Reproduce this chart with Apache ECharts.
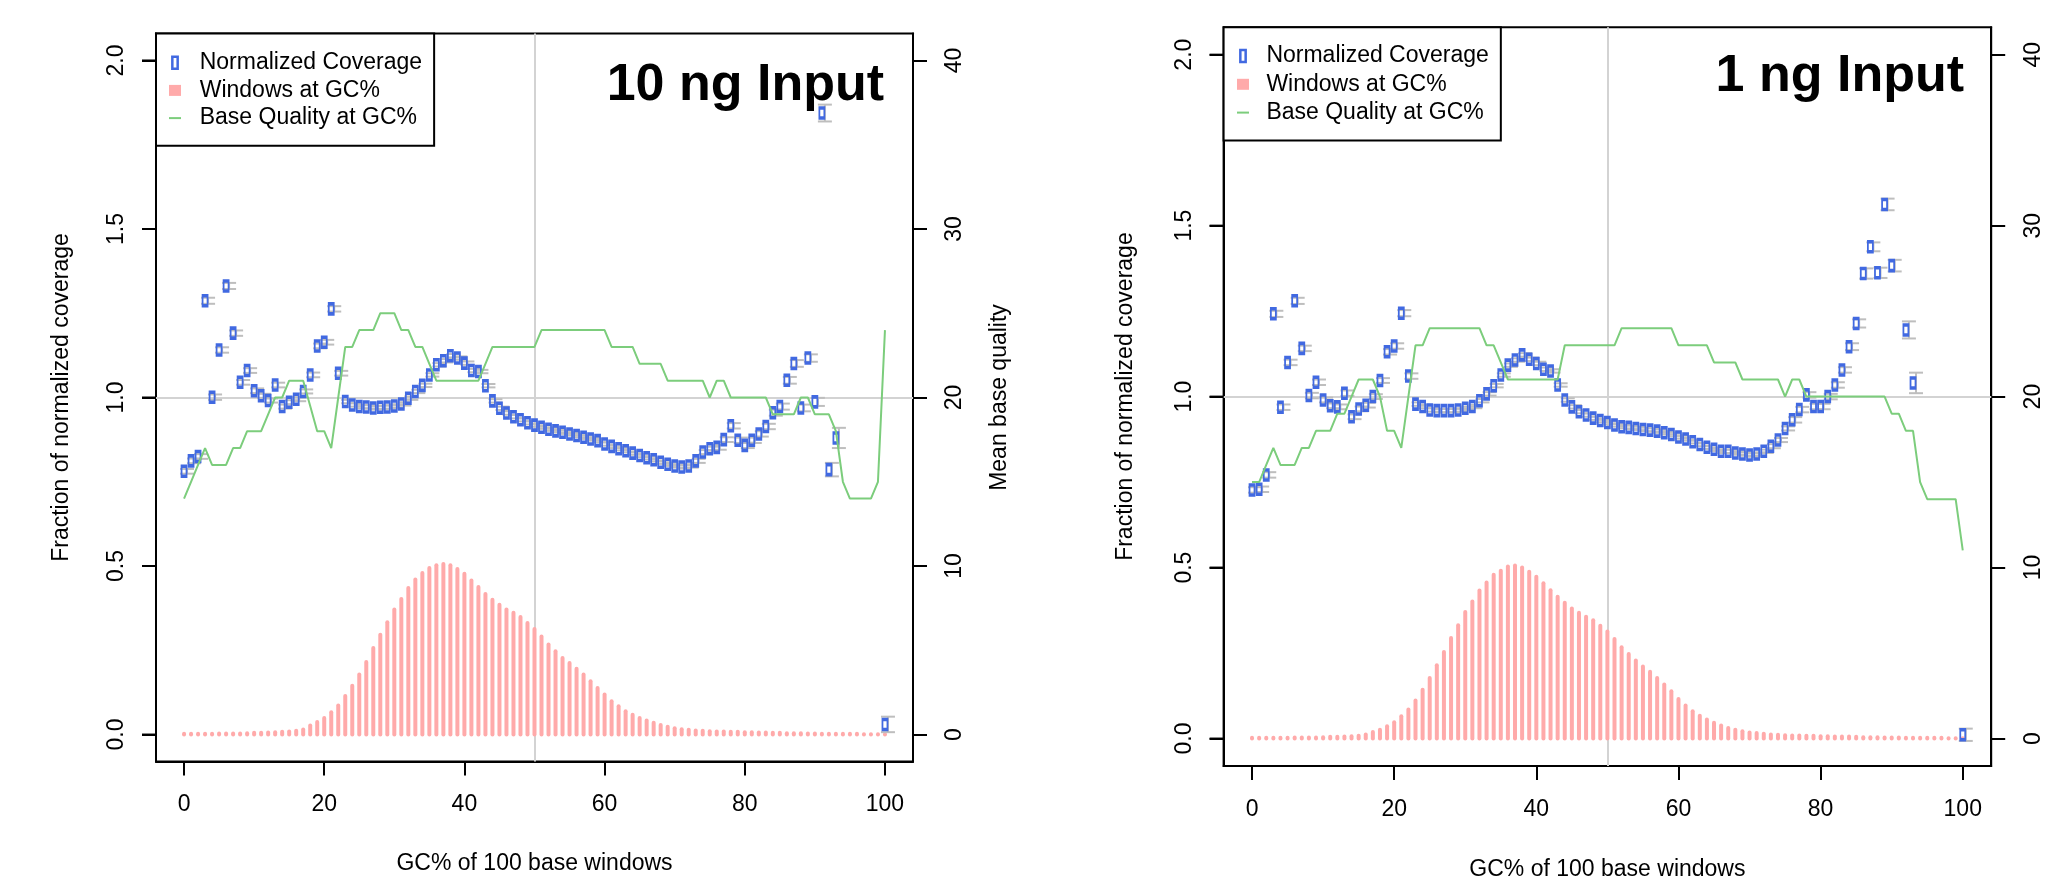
<!DOCTYPE html>
<html>
<head>
<meta charset="utf-8">
<title>GC bias – 10 ng vs 1 ng input</title>
<script src="https://cdn.jsdelivr.net/npm/echarts@6.0.0/dist/echarts.min.js"></script>
<style>
html,body{margin:0;padding:0;background:#ffffff;}
#chart{width:2069px;height:876px;}
</style>
</head>
<body>
<div id="chart"></div>
<script>
// ---------------- data ----------------
const gcPercent = [0,1,2,3,4,5,6,7,8,9,10,11,12,13,14,15,16,17,18,19,20,21,22,23,24,25,26,27,28,29,30,31,32,33,34,35,36,37,38,39,40,41,42,43,44,45,46,47,48,49,50,51,52,53,54,55,56,57,58,59,60,61,62,63,64,65,66,67,68,69,70,71,72,73,74,75,76,77,78,79,80,81,82,83,84,85,86,87,88,89,90,91,92,93,94,95,96,97,98,99,100];

const panelTitles = ['10 ng Input', '1 ng Input'];
const seriesNames = ['Normalized Coverage', 'Windows at GC%', 'Base Quality at GC%'];
const xAxisTitle = 'GC% of 100 base windows';
const yLeftTitle = 'Fraction of normalized coverage';
const yRightTitle = 'Mean base quality';

const xTickValues = [0, 20, 40, 60, 80, 100];
const xTickLabels = ['0', '20', '40', '60', '80', '100'];
const yLeftTickValues = [0, 0.5, 1, 1.5, 2];
const yLeftTickLabels = ['0.0', '0.5', '1.0', '1.5', '2.0'];
const yRightTickValues = [0, 10, 20, 30, 40];
const yRightTickLabels = ['0', '10', '20', '30', '40'];
const refLineCoverage = 1;
const refLineGc = 50;

// 10 ng input
const coverage10ng = [0.781,0.812,0.825,1.287,1.001,1.141,1.331,1.191,1.045,1.080,
  1.020,1.005,0.991,1.037,0.973,0.986,0.995,1.018,1.067,1.153,
  1.164,1.263,1.072,0.988,0.978,0.973,0.972,0.969,0.971,0.972,
  0.975,0.981,0.998,1.018,1.036,1.067,1.097,1.109,1.124,1.117,
  1.102,1.080,1.077,1.035,0.990,0.968,0.954,0.943,0.934,0.925,
  0.918,0.912,0.906,0.901,0.897,0.892,0.887,0.882,0.877,0.872,
  0.862,0.855,0.848,0.842,0.835,0.828,0.821,0.815,0.808,0.802,
  0.797,0.794,0.797,0.812,0.838,0.848,0.852,0.875,0.916,0.873,
  0.858,0.873,0.892,0.914,0.955,0.973,1.051,1.101,0.969,1.117,
  0.987,1.844,0.786,0.880,null,null,null,null,null,null,
  0.030];
const coverageErr10ng = [0.007,0.007,0.007,0.009,0.008,0.008,0.009,0.008,0.007,0.007,
  0.007,0.006,0.006,0.007,0.006,0.006,0.006,0.006,0.007,0.007,
  0.007,0.008,0.007,0.005,0.005,0.005,0.005,0.005,0.005,0.005,
  0.005,0.005,0.005,0.005,0.005,0.005,0.005,0.005,0.005,0.005,
  0.005,0.005,0.005,0.005,0.005,0.005,0.005,0.005,0.005,0.005,
  0.005,0.005,0.005,0.005,0.005,0.005,0.005,0.005,0.005,0.005,
  0.005,0.005,0.005,0.005,0.005,0.005,0.005,0.005,0.005,0.005,
  0.005,0.005,0.005,0.006,0.006,0.006,0.007,0.007,0.008,0.008,
  0.008,0.008,0.008,0.008,0.009,0.009,0.010,0.010,0.010,0.011,
  0.012,0.025,0.020,0.030,null,null,null,null,null,null,
  0.023];
const windows10ng = [0.002,0.002,0.002,0.002,0.002,0.003,0.003,0.003,0.003,0.004,
  0.005,0.005,0.006,0.007,0.008,0.009,0.011,0.015,0.027,0.037,
  0.049,0.066,0.086,0.114,0.145,0.178,0.215,0.257,0.296,0.333,
  0.371,0.402,0.435,0.460,0.479,0.494,0.502,0.506,0.502,0.491,
  0.477,0.457,0.438,0.417,0.400,0.385,0.371,0.361,0.349,0.331,
  0.313,0.291,0.267,0.247,0.227,0.212,0.195,0.178,0.158,0.138,
  0.119,0.099,0.084,0.069,0.059,0.049,0.042,0.035,0.028,0.023,
  0.019,0.016,0.014,0.012,0.011,0.010,0.009,0.009,0.008,0.008,
  0.007,0.007,0.006,0.006,0.005,0.005,0.004,0.004,0.004,0.003,
  0.003,0.002,0.002,0.002,0.002,0.002,0.002,0.001,0.001,0.001,
  0.001];
const quality10ng = [14,15,16,17,16,16,16,17,17,18,
  18,18,19,20,20,21,21,21,19.5,18,
  18,17,20,23,23,24,24,24,25,25,
  25,24,24,23,23,22,21,21,21,21,
  21,21,21,22,23,23,23,23,23,23,
  23,24,24,24,24,24,24,24,24,24,
  24,23,23,23,23,22,22,22,22,21,
  21,21,21,21,21,20,21,21,20,20,
  20,20,20,20,19,19,19,19,20,20,
  19,19,19,18,15,14,14,14,14,15,
  24];

// 1 ng input
const coverage1ng = [0.727,0.729,0.771,1.242,0.969,1.100,1.280,1.141,1.003,1.042,
  0.990,0.973,0.970,1.010,0.941,0.964,0.975,1.000,1.047,1.131,
  1.148,1.244,1.060,0.978,0.971,0.961,0.959,0.959,0.959,0.961,
  0.966,0.971,0.988,1.008,1.032,1.063,1.092,1.107,1.122,1.109,
  1.097,1.080,1.075,1.034,0.990,0.970,0.956,0.946,0.937,0.930,
  0.924,0.917,0.912,0.910,0.907,0.904,0.902,0.899,0.894,0.889,
  0.882,0.876,0.868,0.860,0.852,0.846,0.840,0.840,0.835,0.832,
  0.829,0.832,0.840,0.855,0.873,0.907,0.932,0.962,1.005,0.971,
  0.971,1.000,1.034,1.078,1.146,1.214,1.360,1.438,1.362,1.562,
  1.383,null,1.195,1.040,null,null,null,null,null,null,
  0.011];
const coverageErr1ng = [0.008,0.008,0.008,0.009,0.008,0.008,0.009,0.008,0.008,0.008,
  0.007,0.007,0.007,0.008,0.007,0.007,0.007,0.007,0.007,0.008,
  0.008,0.009,0.008,0.005,0.005,0.005,0.005,0.005,0.005,0.005,
  0.005,0.005,0.005,0.005,0.005,0.005,0.005,0.005,0.005,0.005,
  0.005,0.005,0.005,0.005,0.005,0.005,0.005,0.005,0.005,0.005,
  0.005,0.005,0.005,0.005,0.005,0.005,0.005,0.005,0.005,0.005,
  0.005,0.005,0.005,0.005,0.005,0.005,0.005,0.005,0.005,0.005,
  0.005,0.005,0.005,0.006,0.006,0.006,0.008,0.008,0.008,0.008,
  0.008,0.008,0.008,0.008,0.010,0.012,0.015,0.013,0.015,0.017,
  0.017,null,0.025,0.030,null,null,null,null,null,null,
  0.018];
const windows1ng = [0.002,0.002,0.002,0.002,0.002,0.002,0.003,0.003,0.003,0.003,
  0.004,0.005,0.005,0.006,0.007,0.008,0.012,0.019,0.026,0.036,
  0.048,0.065,0.085,0.111,0.143,0.177,0.214,0.253,0.294,0.331,
  0.370,0.401,0.433,0.456,0.479,0.491,0.503,0.506,0.500,0.488,
  0.473,0.454,0.434,0.415,0.397,0.380,0.368,0.356,0.346,0.330,
  0.313,0.291,0.267,0.247,0.228,0.211,0.195,0.177,0.158,0.138,
  0.116,0.097,0.080,0.067,0.056,0.046,0.038,0.031,0.026,0.021,
  0.018,0.016,0.014,0.012,0.011,0.010,0.009,0.009,0.008,0.008,
  0.007,0.007,0.006,0.006,0.006,0.005,0.004,0.004,0.004,0.003,
  0.003,0.003,0.002,0.002,0.002,0.002,0.002,0.002,0.001,0.001,
  0.001];
const quality1ng = [15,15,16,17,16,16,16,17,17,18,
  18,18,19,19,20,21,21,21,20,18,
  18,17,20,23,23,24,24,24,24,24,
  24,24,24,23,23,22,21,21,21,21,
  21,21,21,21,23,23,23,23,23,23,
  23,23,24,24,24,24,24,24,24,24,
  23,23,23,23,23,22,22,22,22,21,
  21,21,21,21,21,20,21,21,20,20,
  20,20,20,20,20,20,20,20,20,20,
  19,19,18,18,15,14,14,14,14,14,
  11];

// ---------------- styling ----------------
const FONT = "'Liberation Sans', Arial, Helvetica, sans-serif";
const COL = {cov:'#4169E1', win:'#FFAAAA', qual:'#7CCD7C', ref:'#D3D3D3', err:'#BEBEBE', ink:'#000000'};
const ERR_SHIFT_PX = 3;     // error bars sit slightly right of the point glyph
const ERR_CAP_HALF = 7;
const TICK_LEN = 14;
const X_MIN = -4, X_MAX = 104, Y_MIN = -0.08, Y_MAX = 2.08;

const layout = [
  {grid:{left:156, top:33.5, width:757, height:728}, titleRight:1185, titleTop:60,
   legend:{left:156, top:33.5, padding:[17.7,12,16.2,13], itemGap:4.7, textPad:13.7},
   leftNameGap:83, rightNameGap:75, rightName:yRightTitle, xNameGap:91, xLabelMargin:32},
  {grid:{left:1223.6, top:27.3, width:767.6, height:738.6}, titleRight:105, titleTop:51,
   legend:{left:1223.6, top:27.3, padding:[17.2,12,16.5,13.4], itemGap:5.3, textPad:12.4},
   leftNameGap:86, rightNameGap:75, rightName:'', xNameGap:92.5, xLabelMargin:32.5}
];
const panels = [
  {title:panelTitles[0], cov:coverage10ng, err:coverageErr10ng, win:windows10ng, qual:quality10ng},
  {title:panelTitles[1], cov:coverage1ng, err:coverageErr1ng, win:windows1ng, qual:quality1ng}
];

function labelFor(values, labels, v) {
  for (let k = 0; k < values.length; k++) {
    if (Math.abs(values[k] - v) < 1e-6) return labels[k];
  }
  return '';
}
const txt = {fontFamily:FONT, fontSize:23, color:COL.ink};
const tickStyle = {show:true, inside:false, length:TICK_LEN, lineStyle:{color:COL.ink, width:2}};
const axisLineStyle = {show:true, onZero:false, lineStyle:{color:COL.ink, width:2}};

const option = {
  animation:false, backgroundColor:'#ffffff', textStyle:{fontFamily:FONT},
  title:[], legend:[], grid:[], xAxis:[], yAxis:[], series:[]
};

panels.forEach((p, i) => {
  const L = layout[i];
  const yL = i * 2, yR = i * 2 + 1;
  option.grid.push(Object.assign({show:true, borderColor:COL.ink, borderWidth:2,
    backgroundColor:'rgba(0,0,0,0)', containLabel:false, outerBoundsMode:'none'}, L.grid));
  option.title.push({text:p.title, right:L.titleRight, top:L.titleTop, padding:0,
    textStyle:{fontFamily:FONT, fontSize:52, fontWeight:'bold', color:COL.ink}});

  option.xAxis.push({type:'value', gridIndex:i, position:'bottom', min:X_MIN, max:X_MAX,
    axisLine:axisLineStyle, splitLine:{show:false},
    axisTick:Object.assign({customValues:xTickValues}, tickStyle),
    axisLabel:Object.assign({show:true, customValues:xTickValues, margin:L.xLabelMargin,
      formatter:v => labelFor(xTickValues, xTickLabels, v)}, txt),
    name:xAxisTitle, nameLocation:'middle', nameGap:L.xNameGap, nameTextStyle:txt});

  option.yAxis.push({type:'value', gridIndex:i, position:'left', offset:0, min:Y_MIN, max:Y_MAX,
    axisLine:axisLineStyle, splitLine:{show:false},
    axisTick:Object.assign({customValues:yLeftTickValues}, tickStyle),
    axisLabel:Object.assign({show:true, customValues:yLeftTickValues, rotate:90,
      align:'center', verticalAlign:'middle', margin:39,
      formatter:v => labelFor(yLeftTickValues, yLeftTickLabels, v)}, txt),
    name:yLeftTitle, nameLocation:'middle', nameRotate:90, nameGap:L.leftNameGap, nameTextStyle:txt});

  option.yAxis.push({type:'value', gridIndex:i, position:'right', offset:0, min:Y_MIN * 20, max:Y_MAX * 20,
    axisLine:axisLineStyle, splitLine:{show:false},
    axisTick:Object.assign({customValues:yRightTickValues}, tickStyle),
    axisLabel:Object.assign({show:true, customValues:yRightTickValues, rotate:90,
      align:'center', verticalAlign:'middle', margin:42,
      formatter:v => labelFor(yRightTickValues, yRightTickLabels, v)}, txt),
    name:L.rightName, nameLocation:'middle', nameRotate:90, nameGap:L.rightNameGap, nameTextStyle:txt});

  // left-axis tick marks, also drawn through the axis scale (outside the plot box)
  option.series.push({type:'custom', name:'leftTicks' + i, xAxisIndex:i, yAxisIndex:yL, z:30, silent:true,
    clip:false,
    data:yLeftTickValues.map(v => [X_MIN, v]), encode:{x:0, y:1},
    renderItem:(params, api) => {
      const pt = api.coord([api.value(0), api.value(1)]);
      return {type:'line', shape:{x1:pt[0] - TICK_LEN, y1:pt[1], x2:pt[0], y2:pt[1]},
        style:{stroke:COL.ink, lineWidth:2}};
    }});

  // windows at GC% as thin histogram lines (R type="h")
  option.series.push({type:'custom', name:seriesNames[1], xAxisIndex:i, yAxisIndex:yL, z:10, silent:true,
    itemStyle:{color:COL.win},
    data:p.win.map((v, k) => [gcPercent[k], v]),
    encode:{x:0, y:1},
    renderItem:(params, api) => {
      const x = api.value(0), y = api.value(1);
      const p0 = api.coord([x, 0]), p1 = api.coord([x, y]);
      return {type:'line', shape:{x1:p0[0], y1:p0[1], x2:p1[0], y2:p1[1]},
        style:{stroke:COL.win, lineWidth:4, lineCap:'round'}};
    },
    markLine:{silent:true, z:1, symbol:['none','none'], animation:false, label:{show:false},
      emphasis:{disabled:true},
      lineStyle:{color:COL.ref, width:2, type:'solid'},
      data:[{yAxis:refLineCoverage}, {xAxis:refLineGc}]}
  });

  const covPts = [], errPts = [];
  p.cov.forEach((v, k) => {
    if (v === null) return;
    covPts.push([gcPercent[k], v]);
    errPts.push([gcPercent[k], v, p.err[k]]);
  });

  option.series.push({type:'custom', name:'errorbars' + i, xAxisIndex:i, yAxisIndex:yL, z:11, silent:true,
    data:errPts, encode:{x:0, y:1},
    renderItem:(params, api) => {
      const x = api.value(0), v = api.value(1), e = api.value(2);
      const lo = api.coord([x, v - e]), hi = api.coord([x, v + e]);
      const cx = lo[0] + ERR_SHIFT_PX;
      const st = {stroke:COL.err, lineWidth:2};
      return {type:'group', children:[
        {type:'line', shape:{x1:cx, y1:lo[1], x2:cx, y2:hi[1]}, style:st},
        {type:'line', shape:{x1:cx-ERR_CAP_HALF, y1:lo[1], x2:cx+ERR_CAP_HALF, y2:lo[1]}, style:st},
        {type:'line', shape:{x1:cx-ERR_CAP_HALF, y1:hi[1], x2:cx+ERR_CAP_HALF, y2:hi[1]}, style:st}
      ]};
    }});

  option.series.push({type:'scatter', name:seriesNames[0], xAxisIndex:i, yAxisIndex:yL, z:12, silent:true,
    symbol:'rect', symbolSize:[5, 10],
    itemStyle:{color:'rgba(0,0,0,0)', borderColor:COL.cov, borderWidth:2.5, opacity:1},
    data:covPts});

  option.series.push({type:'line', name:seriesNames[2], xAxisIndex:i, yAxisIndex:yR, z:13, silent:true,
    showSymbol:false, symbol:'none',
    lineStyle:{color:COL.qual, width:2}, itemStyle:{color:COL.qual},
    data:p.qual.map((q, k) => [gcPercent[k], q])});

  option.legend.push({orient:'vertical', left:L.legend.left, top:L.legend.top,
    padding:L.legend.padding, itemGap:L.legend.itemGap, itemWidth:12, itemHeight:12,
    borderColor:COL.ink, borderWidth:2, borderRadius:0, backgroundColor:'#ffffff',
    selectedMode:false, z:20,
    textStyle:{fontFamily:FONT, fontSize:23, color:COL.ink, padding:[0,0,0,L.legend.textPad]},
    data:[
      {name:seriesNames[0], icon:'path://M0,0h4v9h-4z',
        itemStyle:{color:'rgba(0,0,0,0)', borderColor:COL.cov, borderWidth:2.5}},
      {name:seriesNames[1], icon:'path://M0,0h12v11h-12z',
        itemStyle:{color:COL.win, borderWidth:0}},
      {name:seriesNames[2], icon:'path://M0,0h12v2h-12z',
        itemStyle:{color:COL.qual, borderWidth:0}}
    ]});
});

const chart = echarts.init(document.getElementById('chart'), null, {renderer:'canvas'});
chart.setOption(option);
</script>
</body>
</html>
